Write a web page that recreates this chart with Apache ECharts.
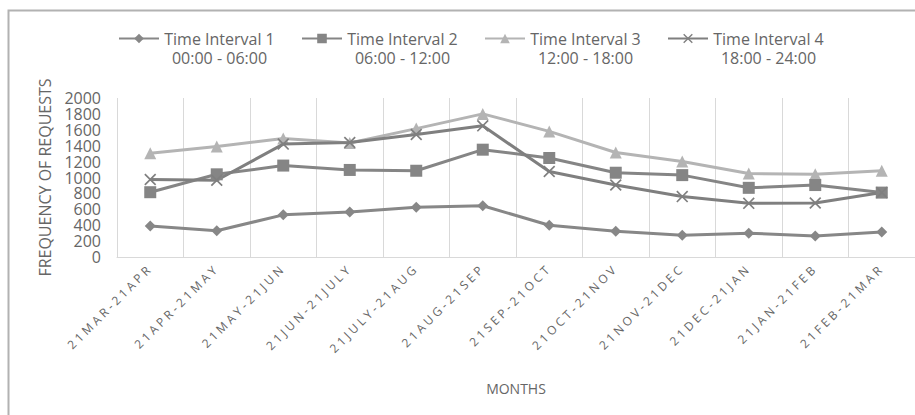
<!DOCTYPE html>
<html>
<head>
<meta charset="utf-8">
<script src="https://cdn.jsdelivr.net/npm/echarts@6/dist/echarts.min.js"></script>
<style>
  html, body { margin: 0; padding: 0; background: #ffffff; }
  #chart { width: 915px; height: 415px; }
</style>
</head>
<body>
<div id="chart"></div>
<script>
// Month ranges along the x axis
const months = ['21MAR-21APR', '21APR-21MAY', '21MAY-21JUN', '21JUN-21JULY', '21JULY-21AUG', '21AUG-21SEP',
                '21SEP-21OCT', '21OCT-21NOV', '21NOV-21DEC', '21DEC-21JAN', '21JAN-21FEB', '21FEB-21MAR'];

// Series names and their time windows
const seriesNames = ['Time Interval 1', 'Time Interval 2', 'Time Interval 3', 'Time Interval 4'];
const timeRanges = ['00:00 - 06:00', '06:00 - 12:00', '12:00 - 18:00', '18:00 - 24:00'];

// Request counts per month
const interval1 = [390, 330, 530, 565, 625, 645, 400, 325, 275, 300, 265, 315];
const interval2 = [815, 1040, 1150, 1095, 1085, 1350, 1245, 1060, 1030, 870, 905, 810];
const interval3 = [1305, 1390, 1490, 1435, 1615, 1800, 1580, 1315, 1200, 1050, 1040, 1085];
const interval4 = [975, 965, 1420, 1440, 1540, 1650, 1075, 905, 760, 675, 680, 810];

// Y axis scale
const yMin = 0, yMax = 2000, yStep = 200;

const FONT = "'Open Sans', 'Liberation Sans', sans-serif";
const crossPath = 'path://M0,1.2 L1.2,0 L6,4.8 L10.8,0 L12,1.2 L7.2,6 L12,10.8 L10.8,12 L6,7.2 L1.2,12 L0,10.8 L4.8,6 Z';

const styles = [
  { color: '#878787', symbol: 'diamond', size: 11 },
  { color: '#858585', symbol: 'rect', size: 12 },
  { color: '#b4b4b4', symbol: 'triangle', size: 12 },
  { color: '#7f7f7f', symbol: crossPath, size: 12 }
];
const values = [interval1, interval2, interval3, interval4];

const chart = echarts.init(document.getElementById('chart'), null, { renderer: 'svg' });

chart.setOption({
  animation: false,
  backgroundColor: '#ffffff',
  graphic: [{
    type: 'rect',
    left: 6, top: 8,
    shape: { width: 1000, height: 1000 },
    style: { fill: 'none', stroke: '#b2b2b2', lineWidth: 2 },
    silent: true
  }],
  legend: {
    left: 118,
    top: 10,
    padding: 0,
    itemWidth: 40,
    itemHeight: 12,
    itemGap: 26,
    data: seriesNames,
    formatter: function (name) {
      const i = seriesNames.indexOf(name);
      return '{a| }\n{a|' + name + '}\n{a|' + timeRanges[i] + '}';
    },
    textStyle: {
      color: '#666666',
      fontFamily: FONT,
      fontSize: 16,
      lineHeight: 19,
      rich: {
        a: { width: 111, align: 'center', fontSize: 16, lineHeight: 19, color: '#666666', fontFamily: FONT }
      }
    }
  },
  grid: { left: 117, right: 0, top: 98, bottom: 158, containLabel: false },
  xAxis: {
    type: 'category',
    data: months,
    boundaryGap: true,
    name: 'MONTHS',
    nameLocation: 'middle',
    nameGap: 124,
    nameTextStyle: { color: '#666666', fontFamily: FONT, fontSize: 14 },
    axisLine: { show: true, lineStyle: { color: '#d9d9d9', width: 1 } },
    axisTick: { show: false },
    axisLabel: {
      interval: 0,
      rotate: 45,
      margin: 9,
      color: '#666666',
      fontFamily: FONT,
      fontSize: 12
    },
    splitLine: { show: true, interval: 0, lineStyle: { color: '#d9d9d9', width: 1 } }
  },
  yAxis: {
    type: 'value',
    min: yMin,
    max: yMax,
    interval: yStep,
    name: 'FREQUENCY OF REQUESTS',
    nameLocation: 'middle',
    nameRotate: 90,
    nameGap: 64,
    nameTextStyle: { color: '#666666', fontFamily: FONT, fontSize: 16 },
    axisLine: { show: false },
    axisTick: { show: false },
    splitLine: { show: false },
    axisLabel: {
      color: '#666666', fontFamily: FONT, fontSize: 16, lineHeight: 15, margin: 16,
      formatter: function (v) { return String(v); }
    }
  },
  series: values.map(function (v, i) {
    return {
      name: seriesNames[i],
      type: 'line',
      data: v,
      symbol: styles[i].symbol,
      symbolSize: styles[i].size,
      showAllSymbol: true,
      z: i === 2 ? 1 : 2,
      lineStyle: { color: styles[i].color, width: 3 },
      itemStyle: { color: styles[i].color, borderWidth: 0 },
      emphasis: { disabled: true }
    };
  })
});

// Spaced lettering on the slanted month labels
function spaceMonthLabels() {
  document.querySelectorAll('#chart text').forEach(function (t) {
    if (months.indexOf(t.textContent) >= 0) {
      t.style.letterSpacing = '3.2px';
    }
  });
}
spaceMonthLabels();
chart.on('finished', spaceMonthLabels);
setTimeout(spaceMonthLabels, 0);
</script>
</body>
</html>
